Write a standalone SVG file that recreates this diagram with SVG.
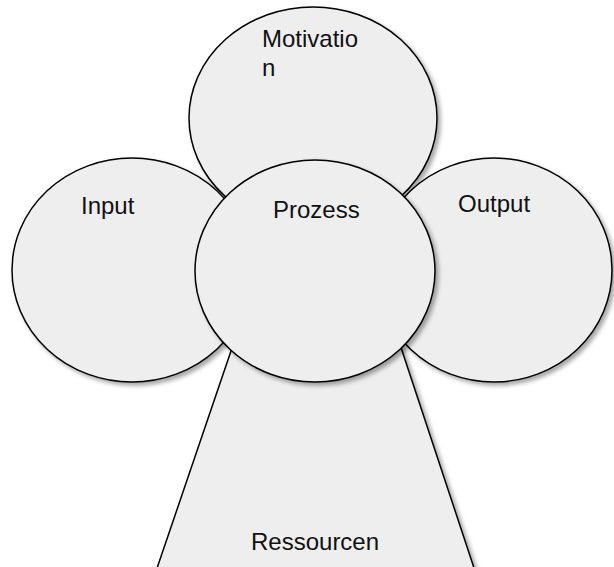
<svg xmlns="http://www.w3.org/2000/svg" width="614" height="567" viewBox="0 0 614 567">
<defs>
<filter id="sh" x="-10%" y="-10%" width="130%" height="130%">
<feDropShadow dx="3" dy="3" stdDeviation="2" flood-color="#000" flood-opacity="0.35"/>
</filter>
<style>
.s{fill:#eeeeee;stroke:#000;stroke-width:1.5;filter:url(#sh)}
.t{font-family:"Liberation Sans",Arial,sans-serif;font-size:24px;fill:#111}
</style>
</defs>
<rect width="614" height="567" fill="#fff"/>
<g id="ressourcen">
<path class="s" d="M262,260 L372,260 L478,580 L153,580 Z"/>
<text class="t" x="251" y="550">Ressourcen</text>
</g>
<g id="motivation">
<ellipse class="s" cx="313" cy="118" rx="124" ry="111"/>
<text class="t" x="262" y="47">Motivatio</text>
<text class="t" x="262" y="76">n</text>
</g>
<g id="input">
<ellipse class="s" cx="132" cy="270" rx="120" ry="112"/>
<text class="t" x="81" y="214">Input</text>
</g>
<g id="output">
<ellipse class="s" cx="494" cy="270" rx="118" ry="112"/>
<text class="t" x="458" y="212">Output</text>
</g>
<g id="prozess">
<ellipse class="s" cx="315" cy="271" rx="120" ry="111"/>
<text class="t" x="273" y="218">Prozess</text>
</g>
<g id="connectors"></g>
</svg>
